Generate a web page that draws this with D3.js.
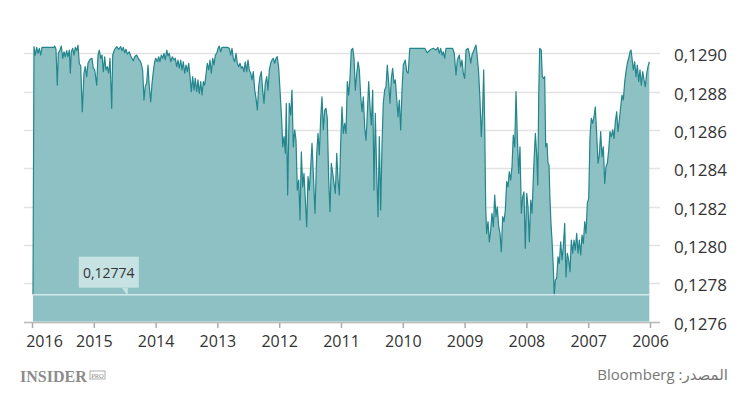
<!doctype html>
<html lang="ar">

<head>
    <meta charset="UTF-8">
    <title>Chart</title>
    <style>
        body { margin: 0; background: #fff; }
        svg { display: block; font-family: 'Open Sans', 'DejaVu Sans', sans-serif; }
    </style>
</head>

<body>
    <svg width="750" height="394"></svg>
    <script src="https://cdn.jsdelivr.net/npm/d3@7/dist/d3.min.js"></script>
    <script>
    // decimal years, newest first (axis runs right to left)
    var years = [
        2015.984, 2015.968, 2015.947, 2015.924, 2015.903, 2015.882, 2015.859, 2015.838, 2015.741, 2015.644,
        2015.633, 2015.612, 2015.591, 2015.574, 2015.547, 2015.526, 2015.503, 2015.482, 2015.461, 2015.439,
        2015.417, 2015.396, 2015.380, 2015.364, 2015.341, 2015.320, 2015.299, 2015.277, 2015.256, 2015.235,
        2015.212, 2015.186, 2015.159, 2015.138, 2015.115, 2015.094, 2015.061, 2015.029, 2015.008, 2014.985,
        2014.953, 2014.932, 2014.911, 2014.888, 2014.867, 2014.846, 2014.824, 2014.803, 2014.782, 2014.759,
        2014.738, 2014.710, 2014.694, 2014.662, 2014.629, 2014.597, 2014.565, 2014.544, 2014.523, 2014.500,
        2014.479, 2014.458, 2014.426, 2014.403, 2014.382, 2014.361, 2014.338, 2014.306, 2014.273, 2014.252,
        2014.231, 2014.209, 2014.188, 2014.167, 2014.144, 2014.123, 2014.102, 2014.079, 2014.058, 2014.037, 2014.015,
        2013.998, 2013.972, 2013.950, 2013.929, 2013.908, 2013.885, 2013.864, 2013.843, 2013.820, 2013.799,
        2013.778, 2013.756, 2013.730, 2013.702, 2013.681, 2013.659, 2013.638, 2013.617, 2013.594, 2013.573,
        2013.552, 2013.529, 2013.508, 2013.487, 2013.464, 2013.443, 2013.422, 2013.400, 2013.379, 2013.358,
        2013.335, 2013.314, 2013.293, 2013.270, 2013.249, 2013.228, 2013.206, 2013.185, 2013.163, 2013.141,
        2013.120, 2013.099, 2013.076, 2013.055, 2013.034, 2013.011, 2012.990, 2012.969, 2012.947, 2012.926,
        2012.840, 2012.807, 2012.785, 2012.764, 2012.743, 2012.720, 2012.699, 2012.678, 2012.655, 2012.634,
        2012.613, 2012.591, 2012.570, 2012.549, 2012.526, 2012.505, 2012.484, 2012.461, 2012.440, 2012.419,
        2012.396, 2012.375, 2012.354, 2012.332, 2012.311, 2012.290, 2012.267, 2012.246, 2012.225, 2012.202,
        2012.181, 2012.160, 2012.138, 2012.117, 2012.096, 2012.073, 2012.052, 2012.031, 2012.008, 2011.987,
        2011.960, 2011.943, 2011.922, 2011.901, 2011.885, 2011.863, 2011.837, 2011.814, 2011.793, 2011.772,
        2011.749, 2011.728, 2011.707, 2011.684, 2011.663, 2011.642, 2011.620, 2011.599, 2011.578, 2011.555,
        2011.534, 2011.513, 2011.490, 2011.469, 2011.448, 2011.421, 2011.393, 2011.372, 2011.351, 2011.329,
        2011.308, 2011.286, 2011.264, 2011.243, 2011.222, 2011.199, 2011.178, 2011.157, 2011.134, 2011.113,
        2011.092, 2011.069, 2011.048, 2011.027, 2011.005, 2010.984, 2010.963, 2010.940, 2010.919, 2010.898,
        2010.875, 2010.854, 2010.833, 2010.810, 2010.789, 2010.768, 2010.745, 2010.724, 2010.703, 2010.681,
        2010.660, 2010.639, 2010.616, 2010.595, 2010.574, 2010.552, 2010.531, 2010.510, 2010.487, 2010.466,
        2010.445, 2010.422, 2010.401, 2010.380, 2010.358, 2010.337, 2010.316, 2010.293, 2010.272, 2010.251,
        2010.228, 2010.207, 2010.186, 2010.164, 2010.143, 2010.121, 2010.099, 2010.078, 2010.057, 2010.034,
        2010.013, 2009.992, 2009.960, 2009.937,
        2009.913, 2009.887, 2009.644, 2009.605, 2009.563, 2009.508, 2009.463, 2009.431, 2009.410, 2009.387,
        2009.366, 2009.345, 2009.322, 2009.301, 2009.193, 2009.167, 2009.139, 2009.118, 2009.086, 2009.063,
        2009.042, 2009.021, 2008.999, 2008.977, 2008.945, 2008.924, 2008.901, 2008.880, 2008.848, 2008.816,
        2008.795, 2008.772, 2008.751, 2008.730, 2008.707, 2008.691, 2008.675, 2008.659, 2008.643, 2008.621,
        2008.600, 2008.578, 2008.557, 2008.535, 2008.513, 2008.492, 2008.471, 2008.448, 2008.427, 2008.406,
        2008.384, 2008.363, 2008.341, 2008.319, 2008.298, 2008.277, 2008.254, 2008.233, 2008.212, 2008.189,
        2008.168, 2008.147, 2008.125, 2008.104, 2008.082, 2008.060, 2008.039, 2008.018, 2007.995, 2007.974,
        2007.953, 2007.930, 2007.909,
        2007.881, 2007.855, 2007.832, 2007.816, 2007.801, 2007.785, 2007.759, 2007.743, 2007.720, 2007.704,
        2007.688, 2007.667, 2007.651, 2007.634, 2007.618, 2007.602, 2007.586, 2007.565, 2007.549, 2007.532,
        2007.510, 2007.489, 2007.468, 2007.445, 2007.424, 2007.403, 2007.380, 2007.359, 2007.338, 2007.315,
        2007.294, 2007.273, 2007.251, 2007.230, 2007.209, 2007.186, 2007.165, 2007.144, 2007.121, 2007.100,
        2007.079, 2007.056, 2007.035, 2007.014, 2006.992, 2006.971, 2006.950, 2006.927, 2006.906, 2006.885,
        2006.862, 2006.841, 2006.820, 2006.798, 2006.777, 2006.755, 2006.733, 2006.712, 2006.691, 2006.668,
        2006.647, 2006.626, 2006.603, 2006.582, 2006.561, 2006.539, 2006.518, 2006.496, 2006.474, 2006.453,
        2006.432, 2006.409, 2006.388, 2006.367, 2006.345, 2006.323, 2006.307, 2006.291, 2006.270, 2006.248,
        2006.227, 2006.205, 2006.183, 2006.162, 2006.141, 2006.118, 2006.097, 2006.076, 2006.053, 2006.032, 2006.011
    ];
    var rates = [
        0.127740, 0.129035, 0.128991, 0.129031, 0.129000, 0.129026, 0.128991, 0.129031, 0.129031, 0.129031,
        0.129038, 0.129021, 0.128834, 0.129000, 0.129017, 0.129038, 0.128974, 0.129008, 0.128982, 0.129014,
        0.128982, 0.129017, 0.128896, 0.129008, 0.129026, 0.128991, 0.129031, 0.129014, 0.129043, 0.128948,
        0.128934, 0.128695, 0.128896, 0.128930, 0.128878, 0.128948, 0.128969, 0.128974, 0.128922, 0.128913,
        0.128834, 0.128991, 0.129017, 0.128974, 0.128991, 0.128904, 0.128982, 0.128913, 0.128930, 0.128896,
        0.128974, 0.128713, 0.128991, 0.129021, 0.129035, 0.129021, 0.129035, 0.129014, 0.129031, 0.129003,
        0.129021, 0.128996, 0.129008, 0.128986, 0.128974, 0.128961, 0.128982, 0.128991, 0.128969, 0.128961,
        0.128944, 0.128909, 0.128756, 0.128826, 0.128847, 0.128939, 0.128826, 0.128747, 0.128843, 0.128904, 0.128956,
        0.128974, 0.128956, 0.128982, 0.128956, 0.128991, 0.128974, 0.129000, 0.128965, 0.129017, 0.128986,
        0.129000, 0.128956, 0.128982, 0.128965, 0.128974, 0.128930, 0.128965, 0.128922, 0.128965, 0.128913,
        0.128956, 0.128896, 0.128939, 0.128904, 0.128948, 0.128878, 0.128800, 0.128878, 0.128808, 0.128869,
        0.128800, 0.128861, 0.128791, 0.128852, 0.128782, 0.128852, 0.128834, 0.128887, 0.128948, 0.128913,
        0.128965, 0.128896, 0.128974, 0.128939, 0.128991, 0.129000, 0.129026, 0.129038, 0.129008, 0.129031,
        0.129031, 0.129026, 0.128991, 0.129026, 0.128974, 0.128956, 0.129000, 0.128948, 0.128930, 0.128948,
        0.128922, 0.128930, 0.128904, 0.128956, 0.128904, 0.128965, 0.128913, 0.128896, 0.128861, 0.128904,
        0.128808, 0.128765, 0.128704, 0.128826, 0.128878, 0.128904, 0.128808, 0.128739, 0.128843, 0.128878,
        0.128808, 0.128913, 0.128948, 0.128965, 0.128974, 0.128948, 0.128974, 0.128982, 0.128922, 0.128808,
        0.128652, 0.128512, 0.128565, 0.128478, 0.128739, 0.128260, 0.128739, 0.128678, 0.128808, 0.128512,
        0.128600, 0.128547, 0.128286, 0.128338, 0.128130, 0.128486, 0.128303, 0.128373, 0.128243, 0.128095,
        0.128356, 0.128286, 0.128408, 0.128530, 0.128373, 0.128165, 0.128478, 0.128582, 0.128469, 0.128661,
        0.128773, 0.128600, 0.128704, 0.128713, 0.128661, 0.128338, 0.128173, 0.128426, 0.128373, 0.128321,
        0.128269, 0.128478, 0.128338, 0.128260, 0.128530, 0.128721, 0.128582, 0.128634, 0.128582, 0.128852,
        0.128782, 0.128878, 0.129017, 0.129026, 0.128974, 0.128808, 0.128896, 0.128956, 0.128913, 0.128773,
        0.128695, 0.128773, 0.128608, 0.128547, 0.128687, 0.128852, 0.128721, 0.128626, 0.128808, 0.128286,
        0.128687, 0.128373, 0.128147, 0.128565, 0.128182, 0.128512, 0.128739, 0.128808, 0.128826, 0.128939,
        0.128843, 0.128739, 0.128869, 0.128922, 0.128843, 0.128861, 0.128765, 0.128669, 0.128756, 0.128600,
        0.128808, 0.128939, 0.128965, 0.128904,
        0.128896, 0.129026, 0.129026, 0.129003, 0.129017, 0.129026, 0.129017, 0.129031, 0.129000, 0.129026,
        0.128991, 0.129008, 0.128974, 0.129026, 0.129026, 0.129000, 0.128887, 0.128965, 0.128991, 0.128930,
        0.128965, 0.128896, 0.128869, 0.129017, 0.129026, 0.129000, 0.128948, 0.128991, 0.129017, 0.129043,
        0.128982, 0.128896, 0.128756, 0.128565, 0.128721, 0.128913, 0.128634, 0.128199, 0.128060, 0.128121,
        0.128016, 0.128077, 0.128165, 0.128095, 0.128260, 0.128147, 0.128199, 0.128095, 0.128060, 0.127964,
        0.128147, 0.128121, 0.128182, 0.128330, 0.128303, 0.128382, 0.128338, 0.128408, 0.128573, 0.128512,
        0.128800, 0.128565, 0.128373, 0.128512, 0.128165, 0.128251, 0.128277, 0.127982, 0.128269, 0.128199,
        0.128016, 0.128234, 0.128165,
        0.128408, 0.128582, 0.128460, 0.128312, 0.128773, 0.129026, 0.129017, 0.128878, 0.128869, 0.128878,
        0.128512, 0.128530, 0.128426, 0.128417, 0.128234, 0.128112, 0.128025, 0.127886, 0.127738, 0.127816,
        0.127825, 0.127938, 0.127903, 0.128016, 0.127921, 0.127990, 0.128112, 0.127833, 0.127956, 0.127921,
        0.127860, 0.128025, 0.127956, 0.128025, 0.127973, 0.128060, 0.127956, 0.128025, 0.127947, 0.128051,
        0.128008, 0.128121, 0.128060, 0.128217, 0.128243, 0.128565, 0.128661, 0.128634, 0.128669, 0.128721,
        0.128573, 0.128426, 0.128469, 0.128591, 0.128460, 0.128512, 0.128321, 0.128408, 0.128426, 0.128495,
        0.128591, 0.128565, 0.128600, 0.128556, 0.128643, 0.128695, 0.128591, 0.128652, 0.128721, 0.128782,
        0.128756, 0.128852, 0.128904, 0.128948, 0.128974, 0.129008, 0.129017, 0.128974, 0.128913, 0.128956,
        0.128878, 0.128939, 0.128852, 0.128913, 0.128834, 0.128904, 0.128861, 0.128826, 0.128896, 0.128930, 0.128956
    ];
    var yearTicks = [2016, 2015, 2014, 2013, 2012, 2011, 2010, 2009, 2008, 2007, 2006];
    var rateTicks = [0.1276, 0.1278, 0.1280, 0.1282, 0.1284, 0.1286, 0.1288, 0.1290];
    var lastRate = 0.12774;
    var calloutYear = 2014.45;
    var sourceText = 'المصدر: Bloomberg';

    var svg = d3.select('svg');
    var data = years.map(function(d, i) { return { t: d, v: rates[i] }; });

    var x = d3.scaleLinear()
        .domain([2016, 2006])
        .range([32, 650]);
    var y = d3.scaleLinear()
        .domain([0.1276, 0.1290])
        .range([321.5, 53.3]);

    var ru = d3.formatLocale({ decimal: ',', thousands: ' ', grouping: [3], currency: ['', ''] });
    var fmtTick = ru.format('.4f');
    var fmtLast = ru.format('.5f');

    // gridlines
    svg.append('g')
        .selectAll('line')
        .data(rateTicks)
        .enter()
        .append('line')
        .attr('x1', 24)
        .attr('x2', 660)
        .attr('y1', function(d) { return Math.round(y(d)) + 0.5; })
        .attr('y2', function(d) { return Math.round(y(d)) + 0.5; })
        .attr('stroke', '#e2e2e2')
        .attr('stroke-width', 1.5);

    // area + line
    var area = d3.area()
        .x(function(d) { return x(d.t); })
        .y0(y(0.1276))
        .y1(function(d) { return y(d.v); });
    var line = d3.line()
        .x(function(d) { return x(d.t); })
        .y(function(d) { return y(d.v); });

    svg.append('path')
        .attr('d', area(data))
        .attr('fill', '#8ec1c4');
    svg.append('path')
        .attr('d', line(data))
        .attr('fill', 'none')
        .attr('stroke', '#23868c')
        .attr('stroke-width', 1.2)
        .attr('stroke-linejoin', 'round');

    // last value line
    svg.append('line')
        .attr('x1', x(2016))
        .attr('x2', x(2006))
        .attr('y1', y(lastRate))
        .attr('y2', y(lastRate))
        .attr('stroke', '#d3eaea')
        .attr('stroke-width', 1.5);

    // callout
    var cx = x(calloutYear);
    var cy = y(lastRate);
    var callout = svg.append('g')
        .attr('transform', 'translate(' + cx + ',' + cy + ')');
    callout.append('rect')
        .attr('x', -49)
        .attr('y', -38)
        .attr('width', 60)
        .attr('height', 31)
        .attr('fill', '#c6e2e3');
    callout.append('path')
        .attr('d', 'M-6,-7 L0,-7 L0,1 Z')
        .attr('fill', '#c6e2e3');
    callout.append('text')
        .attr('x', -19)
        .attr('y', -17)
        .attr('text-anchor', 'middle')
        .attr('fill', '#333')
        .style('font-size', '14px')
        .text(fmtLast(lastRate));

    // x axis
    var xAxis = svg.append('g')
        .attr('transform', 'translate(0,322)')
        .call(d3.axisBottom(x)
            .tickValues(yearTicks)
            .tickFormat(d3.format('d'))
            .tickSize(6)
            .tickPadding(8));
    xAxis.select('.domain').remove();
    xAxis.append('line')
        .attr('x1', 24)
        .attr('x2', 660)
        .attr('y1', 0.5)
        .attr('y2', 0.5)
        .attr('stroke', '#bbb')
        .attr('stroke-width', 1.5);
    xAxis.selectAll('.tick line')
        .attr('stroke', '#aaa')
        .attr('stroke-width', 1.5);
    xAxis.selectAll('.tick text')
        .attr('fill', '#333')
        .style('font-size', '16px')
        .style('font-family', "'Open Sans', sans-serif")
        .attr('dx', function(d) { return d === 2016 ? 12 : 0; });

    // y axis labels on the right
    var yAxis = svg.append('g')
        .attr('transform', 'translate(660,0)')
        .call(d3.axisRight(y)
            .tickValues(rateTicks)
            .tickFormat(fmtTick)
            .tickSize(0)
            .tickPadding(14));
    yAxis.select('.domain').remove();
    yAxis.selectAll('.tick text')
        .attr('fill', '#333')
        .attr('dy', '0.45em')
        .style('font-size', '17px')
        .style('font-family', "'Open Sans', sans-serif");

    // footer
    var logo = svg.append('g')
        .attr('transform', 'translate(20,382)');
    logo.append('text')
        .attr('fill', '#8c8c8c')
        .style('font-family', "'Liberation Serif', serif")
        .style('font-weight', 'bold')
        .style('font-size', '16px')
        .text('INSIDER');
    logo.append('rect')
        .attr('x', 70)
        .attr('y', -11)
        .attr('width', 15)
        .attr('height', 8)
        .attr('fill', 'none')
        .attr('stroke', '#9a9a9a')
        .attr('stroke-width', 0.8);
    logo.append('text')
        .attr('x', 77.5)
        .attr('y', -4.5)
        .attr('text-anchor', 'middle')
        .attr('fill', '#8c8c8c')
        .style('font-family', "'Liberation Serif', serif")
        .style('font-size', '6.5px')
        .text('PRO');

    svg.append('text')
        .attr('x', 728)
        .attr('y', 380)
        .attr('direction', 'rtl')
        .attr('text-anchor', 'start')
        .attr('fill', '#777')
        .style('font-size', '15px')
        .style('font-family', "'Open Sans', 'DejaVu Sans', sans-serif")
        .text(sourceText);
    </script>
</body>

</html>
